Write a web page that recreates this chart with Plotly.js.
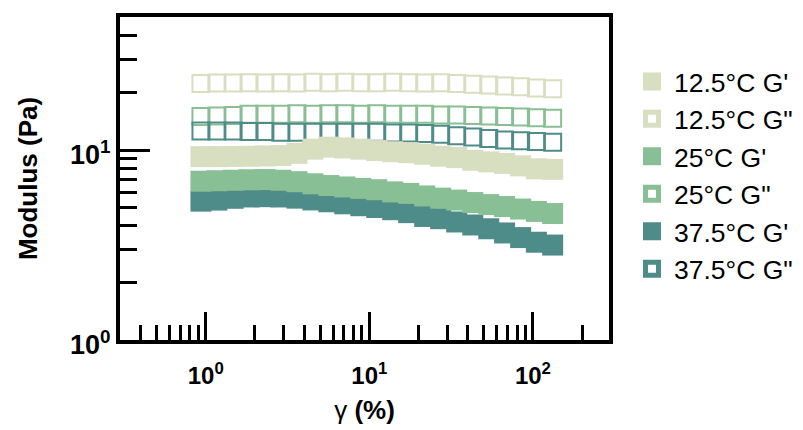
<!DOCTYPE html>
<html>
<head>
<meta charset="utf-8">
<script src="https://cdn.plot.ly/plotly-3.0.1.min.js"></script>
<style>html,body{margin:0;padding:0;background:#fff;}#chart{width:803px;height:430px;}</style>
</head>
<body>
<div id="chart"></div>
<script>
// strain amplitude (%)
const strain = [0.935, 1.17, 1.47, 1.84, 2.30, 2.88, 3.61, 4.52, 5.66, 7.08, 8.87, 11.1, 13.9, 17.4, 21.8, 27.3, 34.2, 42.9, 53.7, 67.1, 84.1, 105, 132];

// storage modulus G' (Pa)
const g12_Gp = [9.23, 9.23, 9.25, 9.27, 9.30, 9.35, 9.60, 10.10, 10.35, 10.25, 10.10, 9.93, 9.79, 9.68, 9.50, 9.27, 9.12, 8.83, 8.66, 8.50, 8.25, 7.96, 7.91];
const g25_Gp = [6.85, 6.89, 6.93, 6.97, 6.99, 6.93, 6.81, 6.64, 6.50, 6.39, 6.28, 6.18, 6.02, 5.91, 5.73, 5.58, 5.45, 5.29, 5.16, 5.04, 4.89, 4.75, 4.63];
const g37_Gp = [5.38, 5.45, 5.57, 5.66, 5.68, 5.66, 5.58, 5.46, 5.34, 5.21, 5.09, 4.98, 4.85, 4.68, 4.47, 4.35, 4.18, 4.03, 3.85, 3.66, 3.46, 3.27, 3.16];

// loss modulus G'' (Pa)
const g12_Gpp = [22.4, 22.5, 22.5, 22.6, 22.5, 22.6, 22.5, 22.7, 22.6, 22.7, 22.6, 22.6, 22.7, 22.6, 22.5, 22.6, 22.4, 22.2, 22.0, 21.7, 21.5, 21.2, 21.0];
const g25_Gpp = [15.0, 15.1, 15.2, 15.4, 15.4, 15.4, 15.5, 15.4, 15.5, 15.5, 15.4, 15.5, 15.4, 15.4, 15.4, 15.3, 15.3, 15.2, 15.1, 15.0, 14.9, 14.8, 14.7];
const g37_Gpp = [12.6, 12.6, 12.6, 12.5, 12.5, 12.4, 12.4, 12.4, 12.4, 12.4, 12.4, 12.4, 12.3, 12.3, 12.2, 12.1, 11.9, 11.7, 11.5, 11.3, 11.2, 11.1, 11.0];

const seriesNames = ["12.5°C G'", "12.5°C G\"", "25°C G'", "25°C G\"", "37.5°C G'", "37.5°C G\""];
const xTickVals = [1, 10, 100];
const xTickText = ['10<sup>0</sup>', '10<sup>1</sup>', '10<sup>2</sup>'];
const xMinorVals = [0.4, 0.5, 0.6, 0.7, 0.8, 0.9, 2, 3, 4, 5, 6, 7, 8, 9, 20, 30, 40, 50, 60, 70, 80, 90, 200];
const yTickVals = [1, 10];
const yTickText = ['10<sup>0</sup>', '10<sup>1</sup>'];
const yMinorVals = [2, 3, 4, 5, 6, 7, 8, 9, 20, 30, 40, 50];

const C12 = '#D8DEC0', C25 = '#88BF95', C37 = '#4E8C89';
const FONT = 'Liberation Sans, Arial, Helvetica, sans-serif';

function openTrace(y, c) {
  return {x: strain, y: y, type: 'scatter', mode: 'markers', showlegend: false, hoverinfo: 'skip',
    marker: {symbol: 'square-open', size: 17, color: c, line: {color: c, width: 2}}};
}
function filledTrace(y, c) {
  return {x: strain, y: y, type: 'scatter', mode: 'markers', showlegend: false, hoverinfo: 'skip',
    marker: {symbol: 'square', size: 21, color: c, line: {width: 0}}};
}
function legendTrace(name, c, open) {
  return {x: [null], y: [null], type: 'scatter', mode: 'markers', name: name, showlegend: true,
    marker: open ? {symbol: 'square', size: 13, color: '#ffffff', line: {color: c, width: 5}}
                 : {symbol: 'square', size: 16, color: c, line: {color: c, width: 2}}};
}

const data = [
  openTrace(g12_Gpp, C12), openTrace(g25_Gpp, C25), openTrace(g37_Gpp, C37),
  filledTrace(g37_Gp, C37), filledTrace(g25_Gp, C25), filledTrace(g12_Gp, C12),
  legendTrace(seriesNames[0], C12, false), legendTrace(seriesNames[1], C12, true),
  legendTrace(seriesNames[2], C25, false), legendTrace(seriesNames[3], C25, true),
  legendTrace(seriesNames[4], C37, false), legendTrace(seriesNames[5], C37, true)
];

const axisCommon = {
  type: 'log', showline: true, linewidth: 4, linecolor: '#000', mirror: true,
  ticks: 'inside', ticklen: 28, tickwidth: 3, tickcolor: '#000', tickmode: 'array',
  showgrid: false, zeroline: false
};

const layout = {
  width: 803, height: 430,
  margin: {l: 120, r: 194, t: 17, b: 90, pad: 0, autoexpand: false},
  paper_bgcolor: '#fff', plot_bgcolor: '#fff',
  xaxis: Object.assign({}, axisCommon, {
    range: [-0.524, 2.465], tickvals: xTickVals, ticktext: xTickText,
    tickfont: {family: FONT, size: 24, color: '#000', weight: 'bold'},
    ticklabelstandoff: 11,
    minor: {tickmode: 'array', tickvals: xMinorVals, ticks: 'inside', ticklen: 15, tickwidth: 3, tickcolor: '#000', showgrid: false},
    title: {text: 'γ <b>(%)</b>', font: {family: FONT, size: 26, color: '#000'}, standoff: 14}
  }),
  yaxis: Object.assign({}, axisCommon, {
    range: [0, 1.70], tickvals: yTickVals, ticktext: yTickText,
    ticklen: 30,
    tickfont: {family: FONT, size: 27, color: '#000', weight: 'bold'},
    ticklabelshift: 5,
    minor: {tickmode: 'array', tickvals: yMinorVals, ticks: 'inside', ticklen: 17, tickwidth: 3, tickcolor: '#000', showgrid: false},
    title: {text: 'Modulus (Pa)', font: {family: FONT, size: 26, color: '#000', weight: 'bold'}, standoff: 26}
  }),
  legend: {x: 1.043, xanchor: 'left', y: 0.874, yanchor: 'top', font: {family: FONT, size: 26.5, color: '#000'},
    bgcolor: 'rgba(0,0,0,0)', borderwidth: 0, itemwidth: 34, tracegroupgap: 0}
};

Plotly.newPlot('chart', data, layout, {displayModeBar: false, staticPlot: true});
</script>
</body>
</html>
